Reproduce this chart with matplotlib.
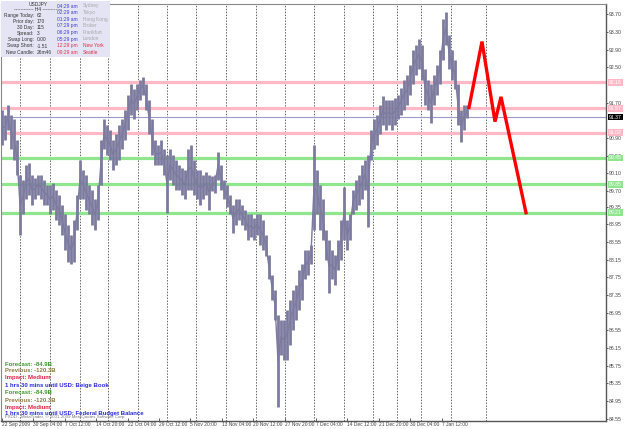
"""
USDJPY H4 chart with support / resistance levels and a projected path,
in the style of a MetaTrader screenshot.
"""

import numpy as np
import matplotlib
matplotlib.use("Agg")
import matplotlib.pyplot as plt
import matplotlib.transforms as mtransforms

W, H = 625, 429
SMALL = ["Liberation Sans", "DejaVu Sans"]
NARROW = ["Liberation Sans Narrow", "Liberation Sans", "DejaVu Sans"]

# ---- data -----------------------------------------------------------------
symbol = "USDJPY"
bar_step = 3  # one sample every 3 H4 bars

highs = [
    91.54, 91.43, 91.65, 91.43, 91.32, 90.86, 90.07, 89.96, 90.30, 90.34,
    90.07, 90.00, 90.07, 90.07, 89.96, 89.84, 89.84, 89.89, 89.73, 89.62,
    89.39, 89.17, 88.94, 88.71, 89.05, 89.62, 90.41, 90.18, 90.07, 89.84,
    89.73, 89.51, 89.84, 90.86, 91.32, 91.20, 91.09, 90.86, 90.98, 91.20,
    91.32, 91.54, 91.88, 92.11, 92.00, 92.11, 92.22, 92.29, 92.11, 91.77,
    91.32, 90.86, 90.75, 90.86, 90.64, 90.52, 90.64, 90.52, 90.41, 90.30,
    90.23, 90.18, 90.64, 90.75, 90.41, 90.18, 90.18, 90.07, 90.14, 90.07,
    90.03, 90.07, 90.59, 90.30, 89.96, 89.84, 89.62, 89.39, 89.51, 89.51,
    89.39, 89.28, 89.17, 89.17, 89.10, 89.17, 89.17, 89.05, 88.71, 88.26,
    87.81, 87.47, 86.90, 86.79, 86.79, 87.02, 87.24, 87.47, 87.58, 87.92,
    88.04, 88.37, 88.37, 88.49, 90.75, 90.18, 89.84, 89.51, 88.83, 88.60,
    88.37, 88.26, 88.60, 89.05, 89.80, 89.05, 89.17, 89.73, 89.96, 90.07,
    90.30, 90.41, 90.52, 91.09, 91.32, 91.43, 91.65, 91.84, 91.77, 91.77,
    91.77, 91.81, 91.88, 92.04, 92.22, 92.33, 92.56, 92.90, 93.01, 93.13,
    93.01, 92.45, 92.22, 92.11, 92.33, 92.56, 92.90, 93.58, 93.76, 93.24,
    92.90, 92.67, 92.11, 91.54, 91.65, 91.65,
]

lows = [
    90.75, 90.86, 91.09, 90.64, 90.41, 90.07, 88.71, 89.17, 89.51, 89.62,
    89.39, 89.51, 89.62, 89.51, 89.39, 89.39, 89.17, 89.28, 89.05, 88.94,
    88.71, 88.37, 88.10, 88.04, 88.10, 88.83, 89.51, 89.51, 89.28, 89.17,
    88.94, 88.83, 89.05, 89.84, 90.64, 90.52, 90.41, 90.18, 90.30, 90.41,
    90.64, 90.86, 91.09, 91.43, 91.32, 91.54, 91.77, 91.88, 91.54, 90.98,
    90.52, 90.30, 90.30, 90.30, 90.07, 89.21, 89.96, 89.84, 89.73, 89.73,
    89.62, 89.51, 89.73, 89.73, 89.62, 89.51, 89.39, 89.51, 89.62, 89.28,
    89.69, 89.66, 89.96, 89.73, 89.51, 89.35, 89.17, 88.76, 88.94, 89.05,
    88.94, 88.83, 88.60, 88.65, 88.60, 88.71, 88.49, 88.37, 88.22, 87.70,
    87.24, 86.79, 84.82, 86.00, 85.89, 85.89, 86.22, 86.56, 86.79, 87.02,
    87.24, 87.70, 87.81, 88.04, 88.83, 89.17, 88.83, 88.60, 88.15, 87.40,
    87.70, 87.58, 87.92, 88.15, 88.60, 88.37, 88.60, 89.17, 89.28, 89.39,
    89.51, 89.73, 88.89, 90.41, 90.64, 90.75, 90.98, 91.20, 91.09, 91.20,
    91.09, 91.20, 91.32, 91.43, 91.54, 91.65, 91.88, 92.11, 92.33, 92.45,
    92.22, 91.65, 91.54, 91.25, 91.65, 91.88, 92.11, 92.67, 93.01, 92.45,
    92.22, 92.00, 91.20, 90.80, 91.09, 91.36,
]

# projected path (bar index, price)
forecast_bars = [468, 481, 494, 500, 525]
forecast_prices = [91.59, 93.08, 91.27, 91.83, 89.21]

resistance = [92.16, 91.57, 91.02]
support = [90.45, 89.85, 89.21]
last_price = 91.37

# weekly period separators (bar index)
separator_bars = [19, 49, 79, 107, 137, 166, 195, 225, 255, 284,
                  313, 343, 372, 396, 420, 450, 485]

date_labels = ["22 Sep 2009", "30 Sep 04:00", "7 Oct 12:00", "14 Oct 20:00",
               "22 Oct 04:00", "29 Oct 12:00", "5 Nov 20:00", "13 Nov 04:00",
               "20 Nov 12:00", "27 Nov 20:00", "7 Dec 04:00", "14 Dec 12:00",
               "21 Dec 20:00", "30 Dec 04:00", "7 Jan 12:00"]

price_ticks = [93.70, 93.30, 92.90, 92.50, 91.70, 90.90, 90.50, 90.10, 89.70,
               89.35, 88.95, 88.55, 88.15, 87.75, 87.35, 86.95, 86.55, 86.15,
               85.75, 85.35, 84.95, 84.55]

info_rows = [("Range Today:", "62"), ("Prior day:", "170"), ("30 Day:", "115"),
             ("Spread:", "3"), ("Swap Long:", "0.00"), ("Swap Short:", "-1.51"),
             ("New Candle:", "26m46")]
clock_times = ["04:29 am", "02:29 am", "01:29 am", "07:29 pm", "06:29 pm",
               "05:29 pm", "12:29 pm", "09:29 am"]
clock_cities = ["Sydney", "Tokyo", "Hong Kong", "Broker", "Frankfurt",
                "London", "New York", "Seattle"]

news_items = ["USD: Beige Book", "USD: Federal Budget Balance"]
news_forecast = "-84.9B"
news_previous = "-120.3B"

# ---- figure ----------------------------------------------------------------
fig = plt.figure(figsize=(W / 100, H / 100), dpi=100)
fig.patch.set_facecolor("white")
ax = fig.add_axes([1 / W, (H - 421) / H, 605 / W, 417 / H])
ax.set_xlim(0, 605)
ax.set_ylim(84.50, 93.93)

bar_color = "#7c7b9f"
x = 1 + bar_step * np.arange(len(highs))
ax.vlines(x, lows, highs, color=bar_color, lw=2.0, zorder=3)
mids = (np.array(highs) + np.array(lows)) / 2
ax.plot(x, mids, color=bar_color, lw=1.0, zorder=3)

for b in separator_bars:
    ax.axvline(b, color="#666666", lw=0.7, ls=(0, (1.5, 1.5)), zorder=1)

for lvl in resistance:
    ax.axhline(lvl, color="#ffb9c6", lw=2.3, zorder=2)
for lvl in support:
    ax.axhline(lvl, color="#8fe68f", lw=2.3, zorder=2)
ax.axhline(last_price, color="#9a9ac8", lw=0.8, zorder=2)

ax.plot(forecast_bars, forecast_prices, color="#ff0000", lw=2.4,
        solid_joinstyle="miter", zorder=5)

# axes styling
for side in ["left", "top"]:
    ax.spines[side].set_color("#888888")
    ax.spines[side].set_linewidth(0.8)
for side in ["right", "bottom"]:
    ax.spines[side].set_color("#555555")
    ax.spines[side].set_linewidth(1.0)

ax.yaxis.tick_right()
ax.set_yticks(price_ticks)
ax.set_yticklabels([f"{p:.2f}" for p in price_ticks], family=SMALL)
ax.tick_params(axis="y", labelsize=3.7, colors="#444444", length=1.5, width=0.6, pad=0.8)

tick_pos = 1 + 31.4 * np.arange(len(date_labels))
ax.set_xticks(tick_pos)
ax.set_xticklabels(date_labels, ha="left", family=SMALL)
ax.tick_params(axis="x", labelsize=3.5, colors="#444444", length=2, width=0.6,
               pad=1.0, direction="in")

# price boxes on the scale
trans = mtransforms.blended_transform_factory(ax.transAxes, ax.transData)
box_levels = [(lvl, "#ffb9c6") for lvl in resistance] + \
             [(lvl, "#8fe68f") for lvl in support] + [(last_price, "black")]
for lvl, col in box_levels:
    ax.text(1.005, lvl, f"{lvl:.2f}", transform=trans, fontsize=3.7, color="white",
            family=SMALL, va="center", ha="left", zorder=6,
            bbox=dict(boxstyle="square,pad=0.15", fc=col, ec="none"))


def px(xp, yp):
    return xp / W, 1 - yp / H


# info panel
fig.patches.append(plt.Rectangle(px(1, 57), 109 / W, 56 / H, transform=fig.transFigure,
                                 fc="#e4e4f4", ec="none", zorder=10))
kw = dict(fontsize=3.5, va="center", family=SMALL, zorder=11)
fig.text(*px(38, 4), symbol, ha="center", color="#333333", **kw)
fig.text(*px(38, 9.5), "------------ H4 ------------", ha="center", color="#333333", **kw)
for i, (lab, val) in enumerate(info_rows):
    yy = 15.5 + i * 6.1
    fig.text(*px(34, yy), lab, ha="right", color="#333333", **kw)
    fig.text(*px(37, yy), val, ha="left", color="#333333", **kw)
for i, (t, c) in enumerate(zip(clock_times, clock_cities)):
    yy = 6 + i * 6.6
    col_t = "#e0304a" if i >= 6 else "#3a3ad8"
    col_c = "#e0304a" if i >= 6 else "#a8a8a8"
    fig.text(*px(57, yy), t, ha="left", color=col_t, **kw)
    fig.text(*px(83, yy), c, ha="left", color=col_c, **kw)

# news block
nkw = dict(fontsize=4.3, fontweight="bold", va="center", family=NARROW)
for j, item in enumerate(news_items):
    y0 = 364 + j * 29
    fig.text(*px(5, y0), f"Forecast: {news_forecast}", color="#3a9a2a", **nkw)
    fig.text(*px(5, y0 + 7), f"Previous: {news_previous}", color="#8a7a3a", **nkw)
    fig.text(*px(5, y0 + 14), "Impact: Medium", color="#e8204a", **nkw)
    fig.text(*px(5, y0 + 21), f"1 hrs 30 mins until {item}", color="#2a2ae0", **nkw)
fig.text(*px(5, 417), "FXDD - MetaTrader, \u00a9 2001-2009 MetaQuotes Software Corp.",
         fontsize=3.2, color="#777777", va="center", family=SMALL)

fig.savefig("out.png", dpi=100)
